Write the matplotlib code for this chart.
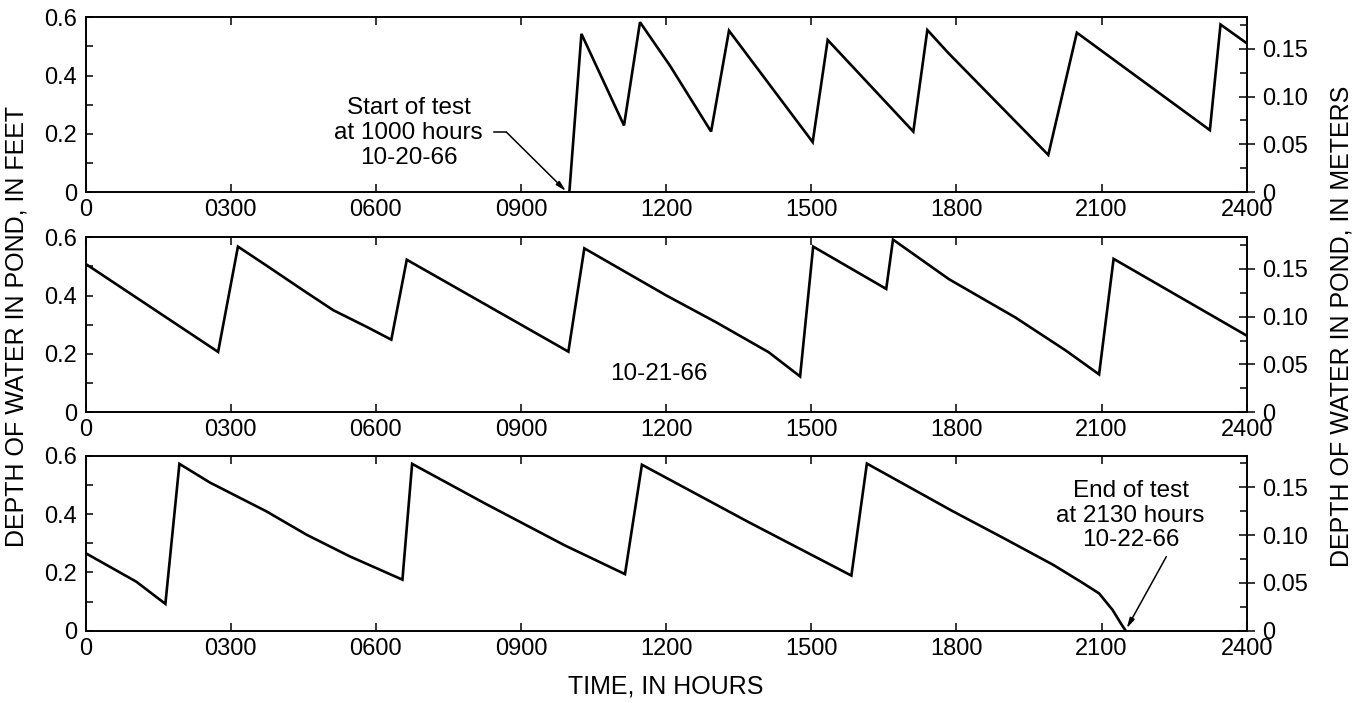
import matplotlib
matplotlib.use("Agg")
import matplotlib.pyplot as plt
from matplotlib.ticker import FixedLocator, MultipleLocator

plt.rcParams['font.family'] = ['Liberation Sans', 'DejaVu Sans']

FT_TO_M = 0.3048

hours_1020 = [10.0, 10.25, 11.13, 11.46, 12.08, 12.93, 13.30, 15.03, 15.34,
              17.11, 17.40, 17.83, 19.90, 20.49, 23.24, 23.46, 24.0]
depth_1020 = [0.0, 0.543, 0.229, 0.583, 0.434, 0.208, 0.554, 0.172, 0.522,
              0.208, 0.556, 0.478, 0.128, 0.547, 0.213, 0.575, 0.511]

hours_1021 = [0.0, 2.74, 3.15, 3.74, 4.50, 5.12, 5.81, 6.32, 6.64, 9.98,
              10.31, 12.01, 13.03, 14.12, 14.48, 14.77, 15.04, 16.55, 16.69,
              17.85, 19.22, 20.26, 20.95, 21.25, 24.0]
depth_1021 = [0.509, 0.207, 0.568, 0.503, 0.418, 0.350, 0.293, 0.249, 0.523,
              0.208, 0.562, 0.400, 0.309, 0.206, 0.160, 0.123, 0.568, 0.423,
              0.592, 0.456, 0.325, 0.212, 0.130, 0.526, 0.263]

hours_1022 = [0.0, 1.05, 1.65, 1.94, 2.57, 3.74, 4.57, 5.46, 6.55, 6.75,
              8.27, 9.90, 11.15, 11.50, 13.72, 15.83, 16.15, 17.91, 18.97,
              20.0, 20.6, 20.95, 21.23, 21.40, 21.5]
depth_1022 = [0.266, 0.168, 0.092, 0.572, 0.508, 0.409, 0.329, 0.255, 0.175,
              0.572, 0.435, 0.293, 0.194, 0.569, 0.371, 0.189, 0.573, 0.411,
              0.318, 0.226, 0.165, 0.128, 0.071, 0.025, 0.0]

hour_ticks = [0, 3, 6, 9, 12, 15, 18, 21, 24]
hour_labels = ['0', '0300', '0600', '0900', '1200', '1500', '1800', '2100', '2400']
ft_ticks = [0, 0.2, 0.4, 0.6]
ft_labels = ['0', '0.2', '0.4', '0.6']
m_ticks = [0, 0.05, 0.10, 0.15]
m_labels = ['0', '0.05', '0.10', '0.15']

series = [(hours_1020, depth_1020), (hours_1021, depth_1021), (hours_1022, depth_1022)]
bottoms = [0.7265, 0.4135, 0.1028]

fs = 17
fs_note = 17.5
fs_lab = 18
fig = plt.figure(figsize=(13.58, 7.03), dpi=100)
axes = []
for (hrs, dep), b in zip(series, bottoms):
    ax = fig.add_axes([0.063, b, 0.855, 0.249])
    ax.plot(hrs, dep, color='black', lw=1.9, solid_joinstyle='miter')
    ax.set_xlim(0, 24)
    ax.set_ylim(0, 0.6)
    ax.xaxis.set_major_locator(FixedLocator(hour_ticks))
    ax.set_xticklabels(hour_labels)
    ax.yaxis.set_major_locator(FixedLocator(ft_ticks))
    ax.set_yticklabels(ft_labels)
    ax.yaxis.set_minor_locator(MultipleLocator(0.1))
    ax.tick_params(axis='x', which='major', direction='in', top=True,
                   length=6, width=1.1, labelsize=fs, pad=5)
    ax.tick_params(axis='y', which='both', direction='in', length=5,
                   width=1.1, labelsize=fs, pad=6)
    for sp in ax.spines.values():
        sp.set_linewidth(1.2)

    axr = ax.twinx()
    axr.set_ylim(0, 0.6 * FT_TO_M)
    axr.yaxis.set_major_locator(FixedLocator(m_ticks))
    axr.set_yticklabels(m_labels)
    axr.yaxis.set_minor_locator(MultipleLocator(0.025))
    axr.tick_params(axis='y', which='major', direction='inout', length=11,
                    width=1.1, labelsize=fs, pad=6)
    axr.tick_params(axis='y', which='minor', direction='in', length=5, width=1.1)
    for sp in axr.spines.values():
        sp.set_linewidth(1.2)
    axes.append(ax)

ax1, ax2, ax3 = axes

# start of test note
ax1.text(6.68, 0.203, 'Start of test\nat 1000 hours\n10-20-66', ha='center',
         va='center', fontsize=fs_note, linespacing=1.15)
ax1.plot([8.45, 8.70], [0.206, 0.206], color='black', lw=1.1)
ax1.annotate('', xy=(9.93, 0.004), xytext=(8.70, 0.206),
             arrowprops=dict(arrowstyle='-|>,head_length=0.6,head_width=0.15',
                             color='black', lw=1.1, shrinkA=0, shrinkB=0))

ax2.text(11.84, 0.13, '10-21-66', ha='center', va='center', fontsize=fs_note)

# end of test note
ax3.text(21.6, 0.394, 'End of test\nat 2130 hours\n10-22-66', ha='center',
         va='center', fontsize=fs_note, linespacing=1.15)
ax3.annotate('', xy=(21.52, 0.008), xytext=(22.34, 0.254),
             arrowprops=dict(arrowstyle='-|>,head_length=0.6,head_width=0.15',
                             color='black', lw=1.1, shrinkA=0, shrinkB=0))

fig.text(0.49, 0.024, 'TIME, IN HOURS', ha='center', va='center', fontsize=fs_lab)
fig.text(0.012, 0.536, 'DEPTH OF WATER IN POND, IN FEET', rotation=90,
         ha='center', va='center', fontsize=fs_lab)
fig.text(0.988, 0.536, 'DEPTH OF WATER IN POND, IN METERS', rotation=90,
         ha='center', va='center', fontsize=fs_lab)

fig.savefig('out.png', dpi=100)
